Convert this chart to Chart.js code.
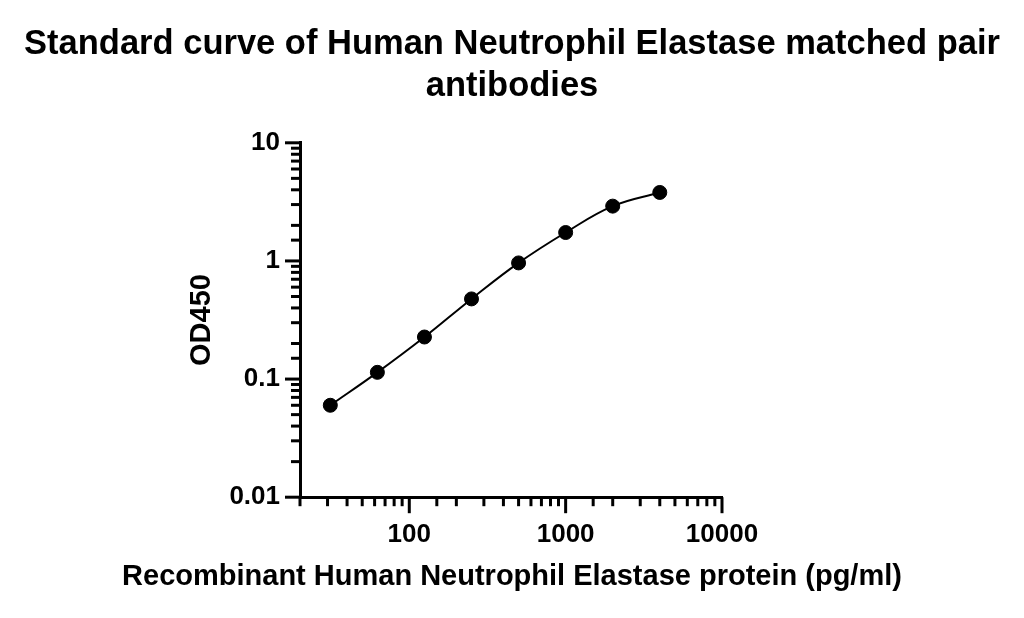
<!DOCTYPE html>
<html>
<head>
<meta charset="utf-8">
<script src="https://cdn.jsdelivr.net/npm/chart.js@4.4.1/dist/chart.umd.min.js"></script>
<style>
  body { margin: 0; background: #fff; }
  #wrap { width: 1024px; height: 618px; }
</style>
</head>
<body>
<div id="wrap"><canvas id="curveChart"></canvas></div>
<script>
const titleLines = ['Standard curve of Human Neutrophil Elastase matched pair', 'antibodies'];
const xTitle = 'Recombinant Human Neutrophil Elastase protein (pg/ml)';
const yTitle = 'OD450';

// standard concentrations (pg/ml) and measured OD450
const concentrations = [31.25, 62.5, 125, 250, 500, 1000, 2000, 4000];
const od450 = [0.060, 0.114, 0.227, 0.477, 0.962, 1.74, 2.91, 3.80];

// axis ranges and the ticks that carry a label
const xRange = [20, 10000];
const yRange = [0.01, 10];
const xLabelled = [100, 1000, 10000];
const yLabelled = [0.01, 0.1, 1, 10];

const FONT = "'Liberation Sans', Arial, sans-serif";
Chart.defaults.color = '#000';
Chart.defaults.font.family = FONT;

function isDecade(v) {
    const l = Math.log10(v);
    return Math.abs(l - Math.round(l)) < 1e-6;
}

function labelFor(list) {
    return function (value) {
        const hit = list.find(v => Math.abs(v - value) / v < 1e-6);
        return hit === undefined ? '' : String(hit);
    };
}

// log axes: long marks at decades, short marks in between
const tickMarks = {
    id: 'tickMarks',
    afterDatasetsDraw(chart) {
        const ctx = chart.ctx;
        const xs = chart.scales.x;
        const ys = chart.scales.y;
        ctx.save();
        ctx.strokeStyle = '#000';
        ctx.lineWidth = 3;
        xs.ticks.forEach(t => {
            const px = xs.getPixelForValue(t.value);
            const len = isDecade(t.value) ? 16 : 9;
            ctx.beginPath();
            ctx.moveTo(px, xs.top);
            ctx.lineTo(px, xs.top + len);
            ctx.stroke();
        });
        ys.ticks.forEach(t => {
            const py = ys.getPixelForValue(t.value);
            const len = isDecade(t.value) ? 15 : 9;
            ctx.beginPath();
            ctx.moveTo(ys.right, py);
            ctx.lineTo(ys.right - len, py);
            ctx.stroke();
        });
        ctx.restore();
    }
};

const points = concentrations.map((c, i) => ({ x: c, y: od450[i] }));

new Chart(document.getElementById('curveChart').getContext('2d'), {
    type: 'line',
    data: {
        datasets: [{
            label: 'Standard curve',
            data: points,
            borderColor: '#000',
            borderWidth: 2,
            tension: 0.4,
            pointRadius: 7,
            pointHoverRadius: 7,
            pointBackgroundColor: '#000',
            pointBorderColor: '#000',
            pointBorderWidth: 1,
            clip: false
        }]
    },
    options: {
        responsive: true,
        maintainAspectRatio: false,
        animation: false,
        layout: { padding: 0 },
        scales: {
            x: {
                type: 'logarithmic',
                min: xRange[0],
                max: xRange[1],
                grid: { display: true, drawOnChartArea: false, drawTicks: false },
                border: { display: true, color: '#000', width: 3 },
                ticks: {
                    autoSkip: false,
                    maxRotation: 0,
                    padding: 22,
                    font: { size: 26, weight: 'bold' },
                    callback: labelFor(xLabelled)
                },
                afterFit(scale) { scale.height = 62; }
            },
            y: {
                type: 'logarithmic',
                min: yRange[0],
                max: yRange[1],
                grid: { display: true, drawOnChartArea: false, drawTicks: false },
                border: { display: true, color: '#000', width: 3 },
                ticks: {
                    autoSkip: false,
                    padding: 20,
                    font: { size: 26, weight: 'bold' },
                    callback: labelFor(yLabelled)
                },
                title: {
                    display: true,
                    text: yTitle,
                    font: { size: 29, weight: 'bold' },
                    padding: { top: 185, bottom: 0 }
                },
                afterFit(scale) { scale.width = 300; }
            },
            spacer: {
                type: 'linear',
                position: 'right',
                display: true,
                grid: { display: false },
                border: { display: false },
                ticks: { display: false },
                afterFit(scale) { scale.width = 302; }
            }
        },
        plugins: {
            legend: { display: false },
            tooltip: { enabled: false },
            title: {
                display: true,
                text: titleLines,
                font: { size: 34.5, weight: 'bold' },
                padding: { top: 24, bottom: 36 }
            },
            // x-axis title drawn full width under the plot
            subtitle: {
                display: true,
                position: 'bottom',
                text: xTitle,
                font: { size: 29, weight: 'bold' },
                padding: { top: 0, bottom: 24 }
            }
        }
    },
    plugins: [tickMarks]
});
</script>
</body>
</html>
